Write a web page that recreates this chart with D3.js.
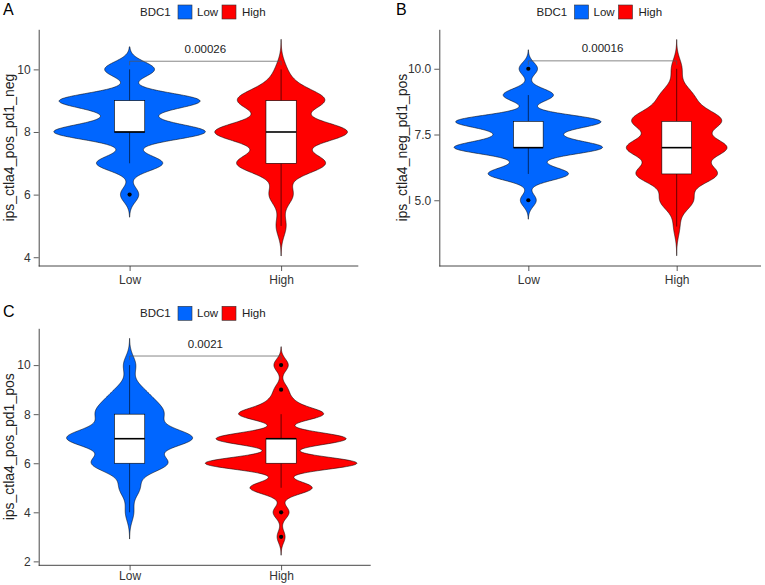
<!DOCTYPE html>
<html><head><meta charset="utf-8">
<script src="https://cdn.jsdelivr.net/npm/d3@7"></script>
<style>
body{margin:0;background:#fff}
svg{display:block}
text{font-family:"Liberation Sans",Arial,Helvetica,sans-serif}
</style>
</head><body><svg id="chart" width="765" height="585"></svg>
<script>
// ---------------- data ----------------
const categories = ["Low", "High"];
const legendTitle = "BDC1";
const panelLetters = ["A", "B", "C"];
const yTitles = ["ips_ctla4_pos_pd1_neg", "ips_ctla4_neg_pd1_pos", "ips_ctla4_pos_pd1_pos"];
const yTicks = [[4, 6, 8, 10], [5.0, 7.5, 10.0], [2, 4, 6, 8, 10]];
const yTickFormats = ["d", ".1f", "d"];
const yDomains = [[3.72, 11.28], [2.5, 11.5], [1.84, 11.5]];
const pValues = ["0.00026", "0.00016", "0.0021"];
const bracketLevels = [10.26, 10.3, 10.37];

// score distributions per panel (Low group / High group)
const lowScores  = [[6, 7, 7.5, 8, 8.5, 9, 10], [5, 6, 6.5, 7, 7.5, 8, 9, 10], [4, 5, 6, 7, 7.5, 8, 8.5, 9, 10]];
const lowCounts  = [[22, 79, 7, 178, 31, 166, 60], [19, 94, 17, 170, 46, 168, 60, 22], [15, 36, 134, 211, 33, 87, 54, 33, 22]];
const highScores = [[5, 6, 7, 8, 9, 9.5, 10], [4, 5, 6, 7, 8, 8.5, 9, 10], [3, 4, 5, 6, 7, 8, 8.5, 9, 10]];
const highCounts = [[16, 38, 141, 211, 131, 26, 13], [11, 59, 144, 178, 148, 30, 48, 19], [10, 20, 78, 190, 163, 103, 25, 15, 18]];
const bandwidths = [[0.24, 0.32], [0.24, 0.37], [0.363, 0.25]];

// box stats: [q1, median, q3, whiskerLow, whiskerHigh]
const lowBox  = [[8, 8, 9, 7, 10], [7, 7, 8, 6, 9], [6, 7, 8, 4, 10]];
const highBox = [[7, 8, 9, 5, 10], [6, 7, 8, 4, 10], [6, 7, 7, 5, 8]];
const lowOutliers  = [[6], [5, 10], []];
const highOutliers = [[], [], [3, 4, 9, 10]];

const colors = ["#0066FF", "#FF0000"];

// ---------------- layout ----------------
const layouts = [
  {letterX: 3, letterY: 15, left: 38.7, right: 372, axisEnd: 358.3, top: 29.3, bottom: 266, xPad: 4, titleX: 9, legendX: 140, legendY: 12},
  {letterX: 396, letterY: 15, left: 439.3, right: 765.7, axisEnd: 761, top: 29.3, bottom: 266, xPad: 4, titleX: 402, legendX: 536.5, legendY: 12},
  {letterX: 3, letterY: 317, left: 38.7, right: 372, axisEnd: 370.7, top: 328.3, bottom: 565.3, xPad: 1.5, titleX: 8.5, legendX: 140, legendY: 313.3}
];

const svg = d3.select("#chart");

function profile(scores, counts, bw, n) {
  const lo = d3.min(scores) - 3 * bw, hi = d3.max(scores) + 3 * bw;
  return d3.range(n + 1).map(i => {
    const v = lo + (hi - lo) * i / n;
    let d = 0;
    scores.forEach((s, j) => { const z = (v - s) / bw; d += counts[j] * Math.exp(-0.5 * z * z) / bw; });
    return {v, d};
  });
}

panelLetters.forEach((letter, p) => {
  const L = layouts[p];
  const g = svg.append("g");
  const x = d3.scalePoint().domain(categories).range([L.left, L.right]).padding(0.6);
  const y = d3.scaleLinear().domain(yDomains[p]).range([L.bottom, L.top]);

  const groups = [
    {cat: categories[0], prof: profile(lowScores[p], lowCounts[p], bandwidths[p][0], 400), box: lowBox[p], out: lowOutliers[p], color: colors[0]},
    {cat: categories[1], prof: profile(highScores[p], highCounts[p], bandwidths[p][1], 400), box: highBox[p], out: highOutliers[p], color: colors[1]}
  ];
  const maxD = d3.max(groups, gr => d3.max(gr.prof, d => d.d));
  const w = d3.scaleLinear().domain([0, maxD]).range([0, x.step() / 2]);
  const boxW = x.step() * 0.2;

  groups.forEach(gr => {
    const cx = x(gr.cat);
    const area = d3.area()
      .y(d => y(d.v))
      .x0(d => cx - w(d.d))
      .x1(d => cx + w(d.d))
      .curve(d3.curveLinear);
    g.append("path").datum(gr.prof).attr("d", area)
      .attr("fill", gr.color).attr("stroke", "#000").attr("stroke-width", 0.55);
  });

  groups.forEach(gr => {
    const cx = x(gr.cat);
    const [q1, med, q3, wl, wh] = gr.box;
    g.append("line").attr("x1", cx).attr("x2", cx).attr("y1", y(wl)).attr("y2", y(q1))
      .attr("stroke", "#000").attr("stroke-width", 0.6);
    g.append("line").attr("x1", cx).attr("x2", cx).attr("y1", y(q3)).attr("y2", y(wh))
      .attr("stroke", "#000").attr("stroke-width", 0.6);
    g.append("rect").attr("x", cx - boxW / 2).attr("width", boxW)
      .attr("y", y(q3)).attr("height", y(q1) - y(q3))
      .attr("fill", "#fff").attr("stroke", "#000").attr("stroke-width", 0.6);
    g.append("line").attr("x1", cx - boxW / 2).attr("x2", cx + boxW / 2).attr("y1", y(med)).attr("y2", y(med))
      .attr("stroke", "#000").attr("stroke-width", 1.6);
    g.selectAll(null).data(gr.out).enter().append("circle")
      .attr("cx", cx).attr("cy", d => y(d)).attr("r", 2.1).attr("fill", "#000");
  });

  // comparison bracket
  const by = y(bracketLevels[p]);
  const x1 = x(categories[0]), x2 = x(categories[1]);
  g.append("path").attr("d", `M${x1},${by + 4}V${by}H${x2}V${by + 4}`)
    .attr("fill", "none").attr("stroke", "#555").attr("stroke-width", 0.7);
  g.append("text").attr("x", (x1 + x2) / 2).attr("y", by - 12.5)
    .attr("text-anchor", "middle").attr("dominant-baseline", "central")
    .attr("font-size", "11.5px").attr("fill", "#222").text(pValues[p]);

  // axes
  const yAxis = d3.axisLeft(y).tickValues(yTicks[p]).tickFormat(d3.format(yTickFormats[p]))
    .tickSize(5).tickSizeOuter(0).tickPadding(3);
  const ya = g.append("g").attr("transform", `translate(${L.left},0)`).call(yAxis);
  ya.select(".domain").attr("stroke", "#333").attr("stroke-width", 0.9);
  ya.selectAll(".tick line").attr("stroke", "#333").attr("stroke-width", 0.8);
  ya.selectAll(".tick text").attr("font-size", "12px").attr("fill", "#333").attr("font-family", null);

  const xAxis = d3.axisBottom(x).tickSize(5).tickSizeOuter(0).tickPadding(L.xPad);
  const xa = g.append("g").attr("transform", `translate(0,${L.bottom})`).call(xAxis);
  xa.select(".domain").remove();
  xa.selectAll(".tick line").attr("stroke", "#333").attr("stroke-width", 0.8);
  xa.selectAll(".tick text").attr("font-size", "12px").attr("fill", "#333").attr("font-family", null);
  g.append("line").attr("x1", L.left).attr("x2", L.axisEnd).attr("y1", L.bottom).attr("y2", L.bottom)
    .attr("stroke", "#333").attr("stroke-width", 0.9);

  // y title
  g.append("text").attr("transform", `translate(${L.titleX},${(L.top + L.bottom) / 2}) rotate(-90)`)
    .attr("text-anchor", "middle").attr("dominant-baseline", "central")
    .attr("font-size", "14px").attr("fill", "#222").text(yTitles[p]);

  // panel letter
  g.append("text").attr("x", L.letterX).attr("y", L.letterY)
    .attr("font-size", "16px").attr("fill", "#000").text(letter);

  // legend
  const lg = g.append("g").attr("transform", `translate(${L.legendX},${L.legendY})`);
  lg.append("text").attr("x", 0).attr("y", 0).attr("dominant-baseline", "central")
    .attr("font-size", "11.5px").attr("fill", "#222").text(legendTitle);
  const keyX = [38, 82], labX = [57, 102];
  categories.forEach((c, i) => {
    lg.append("rect").attr("x", keyX[i]).attr("y", -7).attr("width", 14).attr("height", 14)
      .attr("fill", colors[i]).attr("stroke", "#333").attr("stroke-width", 0.6);
    lg.append("text").attr("x", labX[i]).attr("y", 0).attr("dominant-baseline", "central")
      .attr("font-size", "11.5px").attr("fill", "#222").text(c);
  });
});
</script></body></html>
